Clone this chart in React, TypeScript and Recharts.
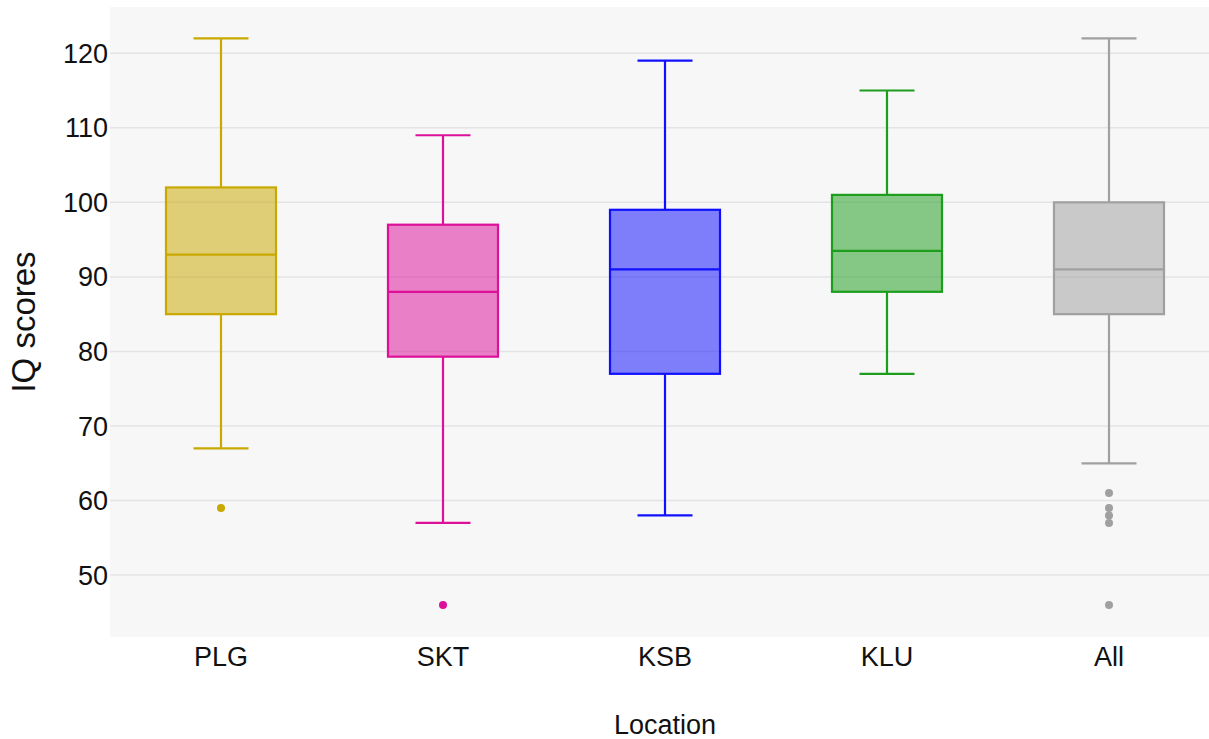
import React from 'react';
import { ComposedChart, Bar, Scatter, XAxis, YAxis, CartesianGrid } from 'recharts';

const LOCATIONS = ['PLG', 'SKT', 'KSB', 'KLU', 'All'];
const LOWER_WHISKER = [67, 57, 58, 77, 65];
const Q1 = [85, 79.3, 77, 88, 85];
const MEDIAN = [93, 88, 91, 93.5, 91];
const Q3 = [102, 97, 99, 101, 100];
const UPPER_WHISKER = [122, 109, 119, 115, 122];

const PLG_OUTLIERS = [59];
const SKT_OUTLIERS = [46];
const ALL_OUTLIERS = [61, 59, 58, 57, 46];

const Y_TICKS = [50, 60, 70, 80, 90, 100, 110, 120];

const STROKES = ['#c9a800', '#dd1199', '#1010ff', '#1c9e1c', '#a0a0a0'];

const boxes = LOCATIONS.map((loc, i) => ({
  loc,
  min: LOWER_WHISKER[i],
  q1: Q1[i],
  median: MEDIAN[i],
  q3: Q3[i],
  max: UPPER_WHISKER[i],
}));

const toPoints = (loc: string, values: number[]) => values.map((iq) => ({ loc, iq }));

const FONT = '"Liberation Sans", Arial, Helvetica, sans-serif';

if (typeof document !== 'undefined') {
  document.body.style.margin = '0';
}

// box + whiskers drawn from the range bar (min..max) geometry
const BoxShape = (props: any) => {
  const { x, y, width, height, payload, index } = props;
  if (!payload || height == null) return null;
  const d = payload;
  const k = height / (d.max - d.min);
  const py = (v: number) => y + (d.max - v) * k;
  const cx = x + width / 2;
  const capHalf = width / 4;
  const color = STROKES[index % STROKES.length];
  return (
    <g>
      <line x1={cx} x2={cx} y1={py(d.max)} y2={py(d.q3)} stroke={color} strokeWidth={2.2} />
      <line x1={cx} x2={cx} y1={py(d.q1)} y2={py(d.min)} stroke={color} strokeWidth={2.2} />
      <line x1={cx - capHalf} x2={cx + capHalf} y1={py(d.max)} y2={py(d.max)} stroke={color} strokeWidth={2.2} />
      <line x1={cx - capHalf} x2={cx + capHalf} y1={py(d.min)} y2={py(d.min)} stroke={color} strokeWidth={2.2} />
      <rect
        x={x}
        y={py(d.q3)}
        width={width}
        height={py(d.q1) - py(d.q3)}
        fill={color}
        fillOpacity={0.52}
        stroke={color}
        strokeWidth={2.2}
      />
      <line x1={x} x2={x + width} y1={py(d.median)} y2={py(d.median)} stroke={color} strokeWidth={2.2} />
    </g>
  );
};

const Dot = (color: string) => (props: any) => {
  const { cx, cy } = props;
  if (cx == null || cy == null) return null;
  return <circle cx={cx} cy={cy} r={4} fill={color} />;
};

export default function App() {
  return (
    <div style={{ width: 1209, height: 739, overflow: 'hidden', background: '#fff' }}>
      <ComposedChart
        width={1220}
        height={739}
        data={boxes}
        margin={{ top: 7, right: 0, bottom: 0, left: 0 }}
        style={{ fontFamily: FONT }}
      >
        <CartesianGrid
          vertical={false}
          horizontalValues={Y_TICKS}
          fill="#f7f7f7"
          stroke="#e4e4e8"
          strokeWidth={1.5}
        />
        <XAxis
          dataKey="loc"
          type="category"
          allowDuplicatedCategory={false}
          axisLine={false}
          tickLine={false}
          tickSize={0}
          tickMargin={10}
          height={102}
          tick={{ fontSize: 27, fill: '#111' }}
          label={{ value: 'Location', position: 'insideBottom', offset: 5, fontSize: 27, fill: '#111' }}
        />
        <YAxis
          type="number"
          domain={[41.7, 126.2]}
          ticks={Y_TICKS}
          width={110}
          axisLine={false}
          tickLine={false}
          tickSize={0}
          tickMargin={2}
          tick={{ fontSize: 27, fill: '#111' }}
          label={{
            value: 'IQ scores',
            angle: -90,
            position: 'insideLeft',
            offset: 23,
            fontSize: 33,
            fill: '#111',
            style: { textAnchor: 'middle' },
          }}
        />
        <Bar
          dataKey={(d: any) => [d.min, d.max]}
          barSize={110}
          shape={<BoxShape />}
          isAnimationActive={false}
        />
        <Scatter data={toPoints('PLG', PLG_OUTLIERS)} dataKey="iq" shape={Dot(STROKES[0])} isAnimationActive={false} />
        <Scatter data={toPoints('SKT', SKT_OUTLIERS)} dataKey="iq" shape={Dot(STROKES[1])} isAnimationActive={false} />
        <Scatter data={toPoints('All', ALL_OUTLIERS)} dataKey="iq" shape={Dot(STROKES[4])} isAnimationActive={false} />
      </ComposedChart>
    </div>
  );
}
